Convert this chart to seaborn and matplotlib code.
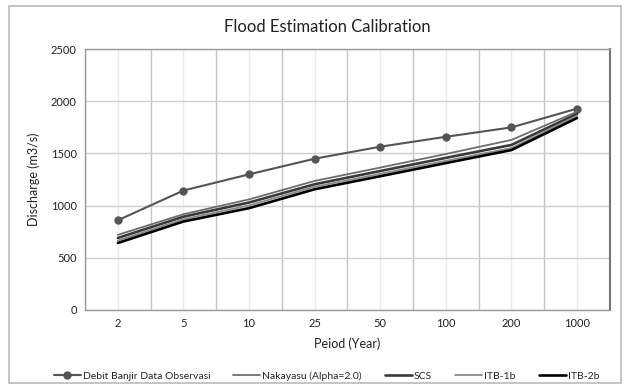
import matplotlib
matplotlib.use("Agg")
import matplotlib.pyplot as plt
import seaborn as sns
import numpy as np
from matplotlib.patches import Rectangle

periods = ["2", "5", "10", "25", "50", "100", "200", "1000"]
observed = [860, 1145, 1300, 1450, 1565, 1660, 1750, 1930]
nakayasu = [720, 918, 1060, 1237, 1365, 1495, 1630, 1900]
scs = [690, 894, 1030, 1205, 1332, 1458, 1582, 1880]
itb1b = [665, 870, 1002, 1181, 1305, 1430, 1552, 1860]
itb2b = [642, 848, 976, 1157, 1282, 1408, 1533, 1840]

series_names = ["Debit Banjir Data Observasi", "Nakayasu (Alpha=2.0)", "SCS", "ITB-1b", "ITB-2b"]
series_values = [observed, nakayasu, scs, itb1b, itb2b]
colors = ["#555555", "#6e6e6e", "#3a3a3a", "#8a8a8a", "#000000"]
widths = [1.5, 1.3, 1.9, 1.3, 1.9]
markers = ["o", None, None, None, None]

sns.set_style("white")
plt.rcParams["font.family"] = ["Lato", "DejaVu Sans"]

fig = plt.figure(figsize=(6.3, 3.87), dpi=100)
ax = fig.add_axes([0.135, 0.199, 0.833, 0.674])

x = np.arange(len(periods))
for name, vals, c, w, m in zip(series_names, series_values, colors, widths, markers):
    sns.lineplot(x=x, y=vals, ax=ax, color=c, linewidth=w, marker=m,
                 markersize=6 if m else 0, markeredgewidth=0, label=name)

ax.set_xlim(-0.5, len(periods) - 0.5)
ax.set_ylim(0, 2500)
ax.set_yticks(np.arange(0, 2501, 500))
ax.set_xticks(x)
ax.set_xticklabels(periods)
ax.set_xticks(np.arange(-0.5, len(periods), 1), minor=True)
ax.grid(axis="y", color="#cfcfcf", linewidth=1)
ax.grid(axis="x", which="minor", color="#c4c4c4", linewidth=1)
ax.grid(axis="x", which="major", color="#ececec", linewidth=1)
ax.tick_params(axis="both", which="both", length=0, labelsize=8, colors="#222222", pad=6)
for s in ax.spines.values():
    s.set_color("#9a9a9a")
    s.set_linewidth(1)
ax.spines["right"].set_color("#777777")
ax.spines["right"].set_linewidth(1.5)

ax.set_xlabel("Peiod (Year)", fontsize=9, color="#222222", labelpad=6)
ax.set_ylabel("Discharge (m3/s)", fontsize=9, color="#222222", labelpad=8)
fig.text(0.52, 0.93, "Flood Estimation Calibration", ha="center", va="center",
         fontsize=12, color="#222222")

ax.legend(loc="upper center", bbox_to_anchor=(0.46, -0.2), ncol=5, frameon=False,
          fontsize=7.5, handlelength=2.6, handletextpad=0.2, columnspacing=2.2)

fig.patches.append(Rectangle((0.015, 0.01), 0.97, 0.975, transform=fig.transFigure,
                             fill=False, edgecolor="#bbbbbb", linewidth=1.2))

fig.savefig("out.png", dpi=100)
